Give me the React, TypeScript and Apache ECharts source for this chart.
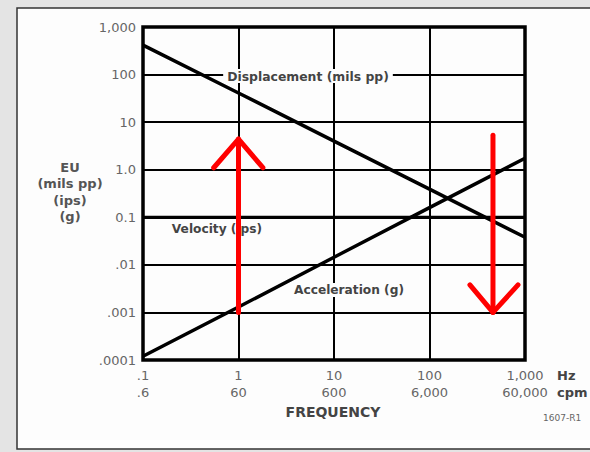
import React, { useEffect, useRef } from "react";
import * as echarts from "echarts";

const hzValues = [0.1, 1, 10, 100, 1000];
const hzLabels = [".1", "1", "10", "100", "1,000"];
const cpmLabels = [".6", "60", "600", "6,000", "60,000"];
const yLabels = [".0001", ".001", ".01", "0.1", "1.0", "10", "100", "1,000"]; // 1e-4 .. 1e3

const displacement = [415, 41, 4.0, 0.39, 0.038];
const velocity = [0.1, 0.1, 0.1, 0.1, 0.1];
const acceleration = [0.00012, 0.0013, 0.0145, 0.16, 1.74];

const upArrowShaft = [[1, 0.001], [1, 4.4]];
const upArrowHead = [[0.55, 1.1], [1, 4.4], [1.8, 1.1]];
const downArrowShaft = [[462, 5.3], [462, 0.001]];
const downArrowHead = [[265, 0.0038], [462, 0.001], [845, 0.0038]];

const FONT = "DejaVu Sans, Verdana, sans-serif";

export default function App() {
  const ref = useRef<HTMLDivElement>(null);
  useEffect(() => {
    if (!ref.current) return;
    const chart = echarts.init(ref.current, undefined, { renderer: "svg" });
    const pair = (xs: number[], ys: number[]) => xs.map((x, i) => [x, ys[i]]);
    const blackLine = (name: string, data: number[][], w: number) => ({
      name,
      type: "line",
      data,
      symbol: "none",
      lineStyle: { color: "#000", width: w },
      z: 5,
    });
    const redLine = (name: string, data: number[][]) => ({
      name,
      type: "line",
      data,
      symbol: "none",
      lineStyle: { color: "#ff0000", width: 5, cap: "round", join: "round" },
      z: 100,
    });
    chart.setOption({
      animation: false,
      backgroundColor: "#e4e4e4",
      grid: {
        left: 143,
        top: 27,
        width: 382,
        height: 333,
        show: true,
        borderColor: "#000",
        borderWidth: 3.5,
        backgroundColor: "transparent",
        z: 3,
      },
      xAxis: {
        type: "log",
        logBase: 10,
        min: 0.1,
        max: 1000,
        splitNumber: 4,
        axisLine: { show: false },
        axisTick: { show: false },
        splitLine: { show: true, lineStyle: { color: "#000", width: 2 } },
        axisLabel: {
          margin: 7,
          color: "#666",
          fontFamily: FONT,
          fontSize: 13,
          lineHeight: 17,
          formatter: (v: number) => {
            const i = Math.round(Math.log10(v)) + 1;
            return `${hzLabels[i] ?? ""}\n${cpmLabels[i] ?? ""}`;
          },
        },
      },
      yAxis: {
        type: "log",
        logBase: 10,
        min: 0.0001,
        max: 1000,
        splitNumber: 7,
        axisLine: { show: false },
        axisTick: { show: false },
        splitLine: { show: true, lineStyle: { color: "#000", width: 2 } },
        axisLabel: {
          margin: 7,
          color: "#666",
          fontFamily: FONT,
          fontSize: 13,
          formatter: (v: number) => yLabels[Math.round(Math.log10(v)) + 4] ?? "",
        },
      },
      graphic: [
        {
          type: "rect",
          z: -10,
          shape: { x: 17, y: 8, width: 600, height: 441 },
          style: { fill: "#fdfdfd", stroke: "#333", lineWidth: 1.5 },
        },
        {
          type: "text",
          z: 50,
          x: 308,
          y: 76,
          style: {
            text: "Displacement (mils pp)",
            font: `bold 12.4px ${FONT}`,
            fill: "#444",
            align: "center",
            verticalAlign: "middle",
            backgroundColor: "#fdfdfd",
            padding: [1, 4],
          },
        },
        {
          type: "text",
          z: 50,
          x: 217,
          y: 229,
          style: {
            text: "Velocity (ips)",
            font: `bold 12.2px ${FONT}`,
            fill: "#444",
            align: "center",
            verticalAlign: "middle",
          },
        },
        {
          type: "text",
          z: 50,
          x: 349,
          y: 290,
          style: {
            text: "Acceleration (g)",
            font: `bold 12.2px ${FONT}`,
            fill: "#444",
            align: "center",
            verticalAlign: "middle",
            backgroundColor: "#fdfdfd",
            padding: [1, 2],
          },
        },
        {
          type: "text",
          z: 50,
          x: 70,
          y: 192,
          style: {
            text: "EU\n(mils pp)\n(ips)\n(g)",
            font: `bold 13px ${FONT}`,
            lineHeight: 16.5,
            fill: "#555",
            align: "center",
            verticalAlign: "middle",
          },
        },
        {
          type: "text",
          z: 50,
          x: 557,
          y: 384,
          style: {
            text: "Hz\ncpm",
            font: `bold 13px ${FONT}`,
            lineHeight: 17,
            fill: "#444",
            align: "left",
            verticalAlign: "middle",
          },
        },
        {
          type: "text",
          z: 50,
          x: 333,
          y: 412,
          style: {
            text: "FREQUENCY",
            font: `bold 14px ${FONT}`,
            fill: "#444",
            align: "center",
            verticalAlign: "middle",
          },
        },
        {
          type: "text",
          z: 50,
          x: 543,
          y: 418,
          style: {
            text: "1607-R1",
            font: `9px ${FONT}`,
            fill: "#666",
            align: "left",
            verticalAlign: "middle",
          },
        },
      ],
      series: [
        blackLine("Displacement (mils pp)", pair(hzValues, displacement), 3.5),
        blackLine("Velocity (ips)", pair(hzValues, velocity), 3),
        blackLine("Acceleration (g)", pair(hzValues, acceleration), 3.5),
        redLine("up shaft", upArrowShaft),
        redLine("up head", upArrowHead),
        redLine("down shaft", downArrowShaft),
        redLine("down head", downArrowHead),
      ],
    });
    return () => chart.dispose();
  }, []);
  return (
    <div
      ref={ref}
      style={{ position: "absolute", left: 0, top: 0, width: 590, height: 452 }}
    />
  );
}
